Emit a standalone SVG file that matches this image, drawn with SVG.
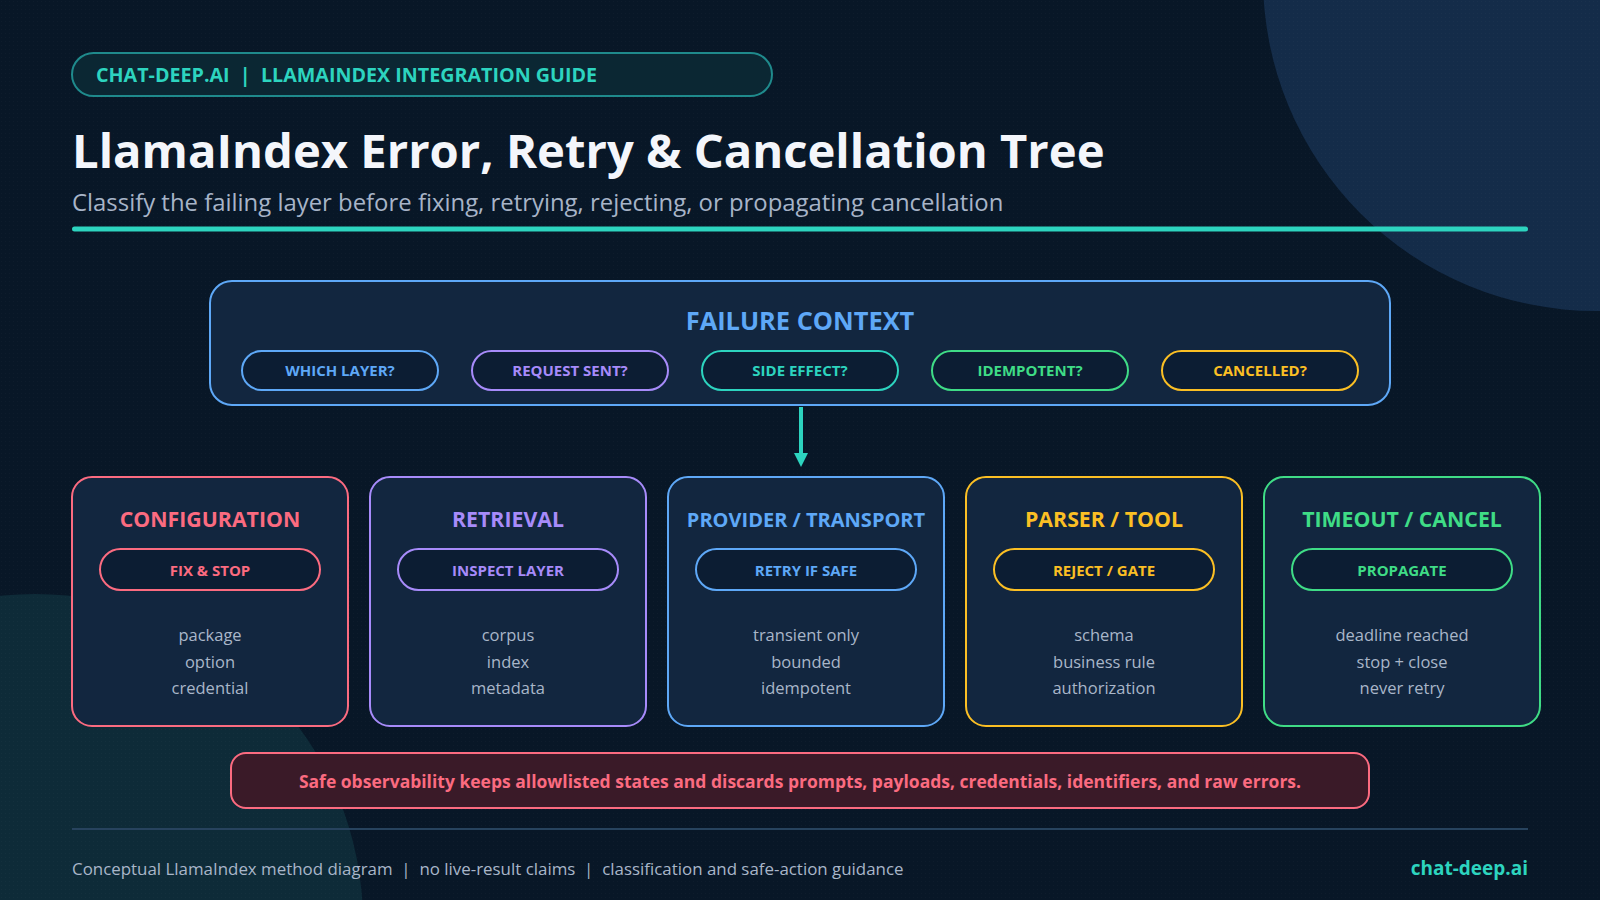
<svg xmlns="http://www.w3.org/2000/svg" width="1600" height="900" viewBox="0 0 1600 900">
<defs>
<pattern id="dots" width="4" height="4" patternUnits="userSpaceOnUse"><rect x="1" y="1" width="1" height="1" fill="#ffffff" fill-opacity="0.025"/></pattern>
<style>
.f{font-family:"Open Sans","Liberation Sans",sans-serif}
.card{fill:#12263f;stroke-width:2}
.pill{fill:#0c1d33;stroke-width:2}
.ct{font-family:"Open Sans","Liberation Sans",sans-serif;font-weight:700;font-size:21.3px;text-anchor:middle}
.pt{font-family:"Open Sans","Liberation Sans",sans-serif;font-weight:700;font-size:15px;text-anchor:middle}
.bt{font-family:"Open Sans","Liberation Sans",sans-serif;font-size:16.5px;fill:#a9b6c9;text-anchor:middle}
.sred{stroke:#fb6b80}.tred{fill:#fb6b80}
.spur{stroke:#a78bfa}.tpur{fill:#a78bfa}
.sblu{stroke:#5ea8f7}.tblu{fill:#5ea8f7}
.samb{stroke:#fbbf24}.tamb{fill:#fbbf24}
.sgrn{stroke:#3fdc86}.tgrn{fill:#3fdc86}
.stea{stroke:#2dd4bf}.ttea{fill:#2dd4bf}
</style>
</defs>
<rect width="1600" height="900" fill="#081727"/>
<circle cx="1596" cy="-22" r="333" fill="#142c49"/>
<circle cx="35" cy="922" r="328" fill="#0e2b38"/>
<rect width="1600" height="900" fill="url(#dots)"/>

<g id="header">
<rect x="72" y="53" width="700" height="43" rx="21.5" fill="#0b2733" stroke="#1f8a8c" stroke-width="2"/>
<text x="96" y="81.5" class="f" font-weight="700" font-size="19.7" fill="#2dd4bf" xml:space="preserve">CHAT-DEEP.AI  |  LLAMAINDEX INTEGRATION GUIDE</text>
<text x="72" y="168" class="f" font-weight="700" font-size="47.2" fill="#f4f6fb">LlamaIndex Error, Retry &amp; Cancellation Tree</text>
<text x="72" y="210.5" class="f" font-size="23.9" fill="#a7b4c8">Classify the failing layer before fixing, retrying, rejecting, or propagating cancellation</text>
<rect x="72" y="226.5" width="1456" height="5" rx="2.5" fill="#2dd4bf"/>
</g>

<g id="failure-context">
<rect x="210" y="281" width="1180" height="124" rx="22" fill="#12263f" stroke="#5ea8f7" stroke-width="2"/>
<text x="800" y="329.5" class="f" font-weight="700" font-size="25.4" fill="#5ea8f7" text-anchor="middle">FAILURE CONTEXT</text>
<rect class="pill sblu" x="242" y="351" width="196" height="39" rx="19.5"/>
<text class="pt tblu" x="340" y="376">WHICH LAYER?</text>
<rect class="pill spur" x="472" y="351" width="196" height="39" rx="19.5"/>
<text class="pt tpur" x="570" y="376">REQUEST SENT?</text>
<rect class="pill stea" x="702" y="351" width="196" height="39" rx="19.5"/>
<text class="pt ttea" x="800" y="376">SIDE EFFECT?</text>
<rect class="pill sgrn" x="932" y="351" width="196" height="39" rx="19.5"/>
<text class="pt tgrn" x="1030" y="376">IDEMPOTENT?</text>
<rect class="pill samb" x="1162" y="351" width="196" height="39" rx="19.5"/>
<text class="pt tamb" x="1260" y="376">CANCELLED?</text>
</g>

<g id="connectors">
<line x1="801" y1="407" x2="801" y2="455" stroke="#2dd4bf" stroke-width="4"/>
<polygon points="794,453 808,453 801,467" fill="#2dd4bf"/>
</g>

<g id="configuration">
<rect class="card sred" x="72" y="477" width="276" height="249" rx="20"/>
<text class="ct tred" x="210" y="527">CONFIGURATION</text>
<rect class="pill sred" x="100" y="549" width="220" height="41" rx="20.5"/>
<text class="pt tred" x="210" y="575.5">FIX &amp; STOP</text>
<text class="bt" x="210" y="641">package</text>
<text class="bt" x="210" y="667.5">option</text>
<text class="bt" x="210" y="694">credential</text>
</g>

<g id="retrieval">
<rect class="card spur" x="370" y="477" width="276" height="249" rx="20"/>
<text class="ct tpur" x="508" y="527">RETRIEVAL</text>
<rect class="pill spur" x="398" y="549" width="220" height="41" rx="20.5"/>
<text class="pt tpur" x="508" y="575.5">INSPECT LAYER</text>
<text class="bt" x="508" y="641">corpus</text>
<text class="bt" x="508" y="667.5">index</text>
<text class="bt" x="508" y="694">metadata</text>
</g>

<g id="provider-transport">
<rect class="card sblu" x="668" y="477" width="276" height="249" rx="20"/>
<text class="ct tblu" x="806" y="527" style="font-size:20px">PROVIDER / TRANSPORT</text>
<rect class="pill sblu" x="696" y="549" width="220" height="41" rx="20.5"/>
<text class="pt tblu" x="806" y="575.5">RETRY IF SAFE</text>
<text class="bt" x="806" y="641">transient only</text>
<text class="bt" x="806" y="667.5">bounded</text>
<text class="bt" x="806" y="694">idempotent</text>
</g>

<g id="parser-tool">
<rect class="card samb" x="966" y="477" width="276" height="249" rx="20"/>
<text class="ct tamb" x="1104" y="527">PARSER / TOOL</text>
<rect class="pill samb" x="994" y="549" width="220" height="41" rx="20.5"/>
<text class="pt tamb" x="1104" y="575.5">REJECT / GATE</text>
<text class="bt" x="1104" y="641">schema</text>
<text class="bt" x="1104" y="667.5">business rule</text>
<text class="bt" x="1104" y="694">authorization</text>
</g>

<g id="timeout-cancel">
<rect class="card sgrn" x="1264" y="477" width="276" height="249" rx="20"/>
<text class="ct tgrn" x="1402" y="527">TIMEOUT / CANCEL</text>
<rect class="pill sgrn" x="1292" y="549" width="220" height="41" rx="20.5"/>
<text class="pt tgrn" x="1402" y="575.5">PROPAGATE</text>
<text class="bt" x="1402" y="641">deadline reached</text>
<text class="bt" x="1402" y="667.5">stop + close</text>
<text class="bt" x="1402" y="694">never retry</text>
</g>

<g id="observability-note">
<rect x="231" y="753" width="1138" height="55" rx="15" fill="#3a1a28" stroke="#fb6b80" stroke-width="2"/>
<text x="800" y="788" class="f" font-weight="700" font-size="17.5" fill="#fb6b80" text-anchor="middle">Safe observability keeps allowlisted states and discards prompts, payloads, credentials, identifiers, and raw errors.</text>
</g>

<g id="footer">
<line x1="72" y1="829" x2="1528" y2="829" stroke="#27435e" stroke-width="2"/>
<text x="72" y="875" class="f" font-size="16.9" fill="#a9b6c9" xml:space="preserve">Conceptual LlamaIndex method diagram  |  no live-result claims  |  classification and safe-action guidance</text>
<text x="1528" y="875" class="f" font-weight="700" font-size="19" fill="#2dd4bf" text-anchor="end">chat-deep.ai</text>
</g>
</svg>
